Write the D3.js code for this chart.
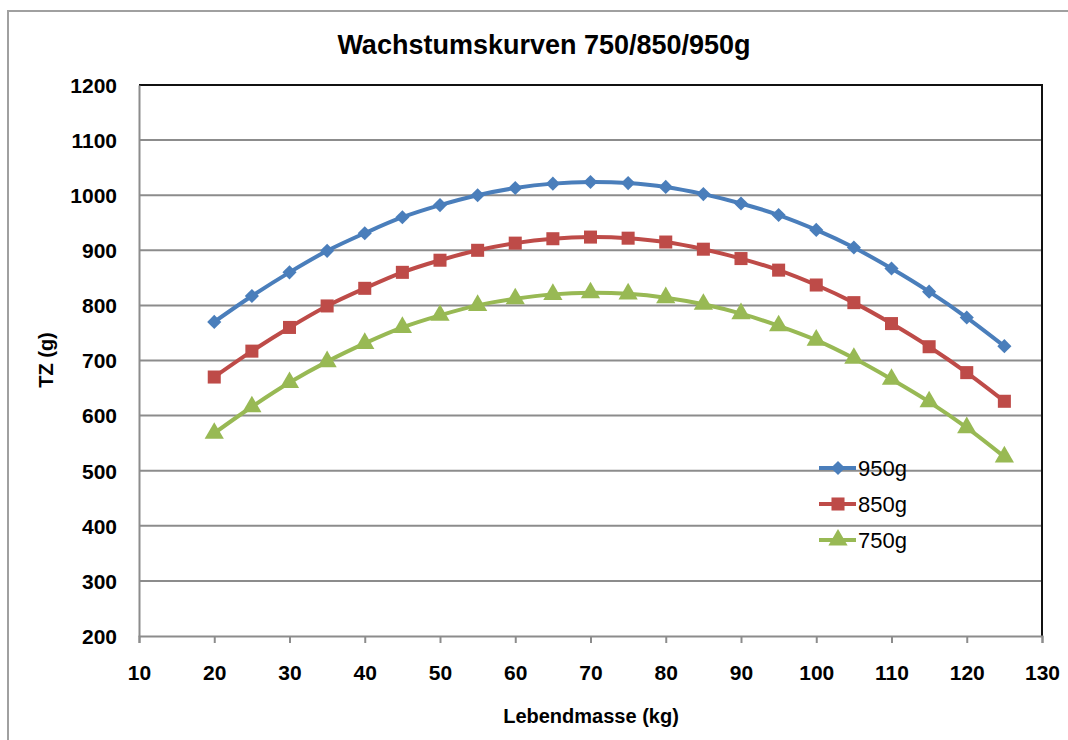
<!DOCTYPE html>
<html><head><meta charset="utf-8">
<script src="https://cdn.jsdelivr.net/npm/d3@7/dist/d3.min.js"></script>
<style>body{margin:0;background:#fff;} svg{display:block;}</style>
</head><body>
<svg id="c" width="1068" height="740"></svg>
<script>
const title = "Wachstumskurven 750/850/950g";
const xTitle = "Lebendmasse (kg)";
const yTitle = "TZ (g)";
const xValues = [20,25,30,35,40,45,50,55,60,65,70,75,80,85,90,95,100,105,110,115,120,125];
const s950 = [770,817,860,899,931,960,982,1000,1013,1021,1024,1022,1015,1002,985,964,937,905,867,825,778,726];
const s850 = [670,717,760,799,831,860,882,900,913,921,924,922,915,902,885,864,837,805,767,725,678,626];
const s750 = [568,616,660,698,731,760,782,800,812,820,823,821,814,802,785,763,737,704,666,625,578,525];
const seriesNames = ["950g","850g","750g"];
const seriesColors = ["#4a7ebb","#be4b48","#98b954"];
const xTicks = [10,20,30,40,50,60,70,80,90,100,110,120,130];
const yTicks = [200,300,400,500,600,700,800,900,1000,1100,1200];

const svg = d3.select("#c");
const L=139, R=1042, T=85, B=636;
const x = d3.scaleLinear().domain([10,130]).range([L,R]);
const y = d3.scaleLinear().domain([200,1200]).range([B,T]);
const font = "'Liberation Sans',Arial,sans-serif";

// outer frame
svg.append("path").attr("d","M8,745 L8,11 L1075,11").attr("fill","none").attr("stroke","#a0a0a0").attr("stroke-width",2);

// gridlines
svg.append("g").selectAll("line").data(yTicks.filter(d=>d>200 && d<1200)).join("line")
  .attr("x1",L).attr("x2",R).attr("y1",d=>y(d)).attr("y2",d=>y(d))
  .attr("stroke","#8c8c8c").attr("stroke-width",2);
// plot border top/right
svg.append("path").attr("d",`M${L},${T} L${R},${T} L${R},${B}`).attr("fill","none").attr("stroke","#111").attr("stroke-width",2);

// axes
const xAxis = svg.append("g").attr("transform",`translate(0,${B})`)
  .call(d3.axisBottom(x).tickValues(xTicks).tickSize(7).tickFormat(d3.format("d")));
const yAxis = svg.append("g").attr("transform",`translate(${L},0)`)
  .call(d3.axisLeft(y).tickValues(yTicks).tickSize(0).tickPadding(22).tickFormat(d3.format("d")));
[xAxis,yAxis].forEach(a=>{
  a.select(".domain").attr("stroke","#8c8c8c").attr("stroke-width",2);
  a.selectAll(".tick line").attr("stroke","#8c8c8c").attr("stroke-width",2);
  a.selectAll("text").attr("font-family",font).attr("font-weight","bold").attr("font-size",21).attr("fill","#000");
});
xAxis.selectAll("text").attr("dy","0").attr("y",44);
yAxis.selectAll("text").attr("dy","0.35em");

// titles
svg.append("text").attr("x",544).attr("y",54).attr("text-anchor","middle")
  .attr("font-family",font).attr("font-weight","bold").attr("font-size",27).text(title);
svg.append("text").attr("x",591).attr("y",723).attr("text-anchor","middle")
  .attr("font-family",font).attr("font-weight","bold").attr("font-size",20).text(xTitle);
svg.append("text").attr("transform","translate(53,360) rotate(-90)").attr("text-anchor","middle")
  .attr("font-family",font).attr("font-weight","bold").attr("font-size",20).text(yTitle);

const allSeries = [s950,s850,s750];
const line = d3.line().x(d=>x(d[0])).y(d=>y(d[1])).curve(d3.curveCatmullRom.alpha(0.5));
const symbols = [d3.symbolSquare, d3.symbolSquare, d3.symbolTriangle];
const symSizes = [100,170,160];
const symRot = [45,0,0];

allSeries.forEach((s,i)=>{
  const pts = xValues.map((v,j)=>[v,s[j]]);
  const g = svg.append("g");
  g.append("path").attr("d",line(pts)).attr("fill","none").attr("stroke",seriesColors[i]).attr("stroke-width",4);
  g.selectAll("path.m").data(pts).join("path").attr("class","m")
    .attr("transform",d=>`translate(${x(d[0])},${y(d[1])}) rotate(${symRot[i]})`)
    .attr("d",d3.symbol().type(symbols[i]).size(symSizes[i])()).attr("fill",seriesColors[i]);
});

// legend
const lg = svg.append("g");
seriesNames.forEach((n,i)=>{
  const yy = 468 + i*36;
  lg.append("line").attr("x1",819).attr("x2",856).attr("y1",yy).attr("y2",yy)
    .attr("stroke",seriesColors[i]).attr("stroke-width",4);
  lg.append("path").attr("transform",`translate(838,${yy}) rotate(${symRot[i]})`)
    .attr("d",d3.symbol().type(symbols[i]).size(symSizes[i])()).attr("fill",seriesColors[i]);
  lg.append("text").attr("x",858).attr("y",yy).attr("dy","0.36em")
    .attr("font-family",font).attr("font-size",22).text(n);
});
</script>
</body></html>
